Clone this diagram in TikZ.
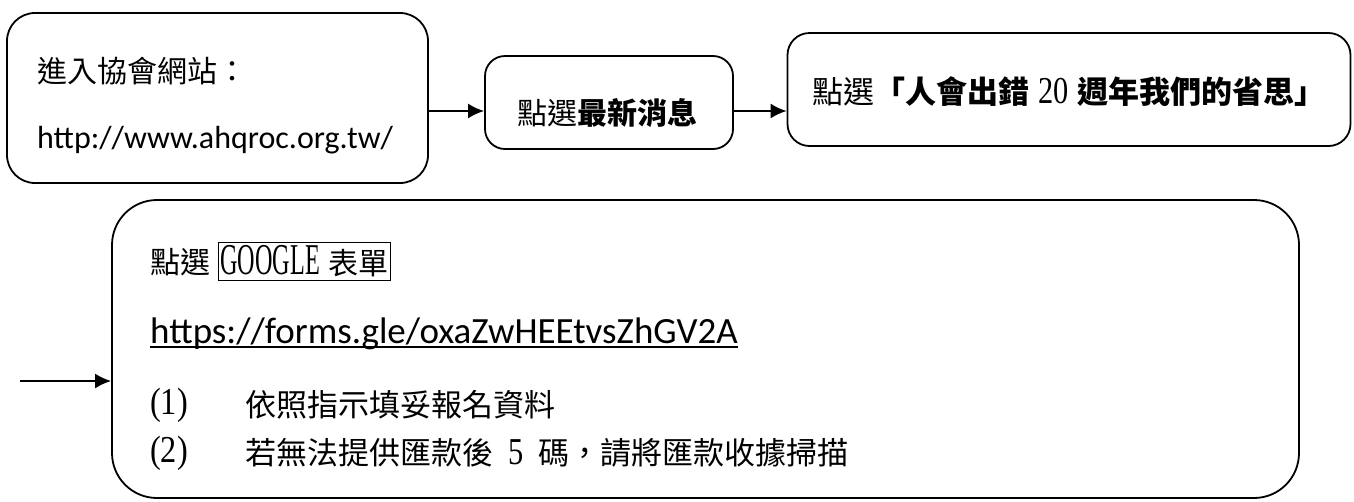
\documentclass[tikz,border=0pt]{standalone}
\usepackage{fontspec}
\setmainfont{Liberation Serif}
\newfontfamily\cjk{Noto Sans CJK TC}
\newfontfamily\lat{Carlito}
\usetikzlibrary{arrows.meta}
\newcommand{\narrow}[2]{\scalebox{#1}[1]{#2}}
\begin{document}
\begin{tikzpicture}[x=1pt,y=-1pt,
  box/.style={draw,line width=1.8pt,inner sep=0pt},
  arr/.style={line width=2pt,-{Latex[length=16pt,width=15pt]}},
  txt/.style={inner sep=0pt,anchor=west},
  zh/.style={font=\cjk\fontsize{30}{36}\selectfont},
  zhb/.style={font=\cjk\fontsize{31}{36}\selectfont},
  num/.style={font=\rmfamily\fontsize{38}{40}\selectfont},
]
\useasboundingbox (0,0) rectangle (1354,501);
\fill[white] (0,0) rectangle (1354,501);
% boxes
\node[box,rounded corners=28pt,minimum width=421pt,minimum height=170pt] (b1) at (217.5,98) {};
\node[box,rounded corners=20pt,minimum width=248pt,minimum height=93pt] (b2) at (609,102.5) {};
\node[box,rounded corners=22pt,minimum width=563pt,minimum height=113pt] (b3) at (1069,89.5) {};
\node[box,rounded corners=45pt,minimum width=1187pt,minimum height=298pt] (b4) at (705.5,349) {};
% texts
\node[txt,zh] (t1a) at (37,71) {進入協會網站：};
\node[txt,font=\lat\fontsize{32}{36}\selectfont] (t1b) at (37,140) {http://www.ahqroc.org.tw/};
\node[inner sep=0pt,zh] (t2) at (607,113) {點選{\bfseries 最新消息}};
\node[txt,font=\cjk\fontsize{31}{36}\selectfont] (t3) at (812,92) {點選{\bfseries 「人會出錯}\hspace{9pt}{\rmfamily\narrow{0.8}{\fontsize{38}{40}\selectfont 20}}\hspace{9pt}{\bfseries 週年我們的省思」}};
\node[txt,zh] (t4a) at (150,262) {點選};
\node[draw,line width=0.9pt,inner xsep=2pt,inner ysep=0pt,minimum height=38pt,anchor=west] (t4b) at (218,261)
  {\narrow{0.55}{\fontsize{44}{44}\selectfont GOOGLE}\hspace{9pt}{\cjk\fontsize{30}{36}\selectfont 表單}};
\node[inner sep=0pt,anchor=base west,font=\lat\fontsize{37}{40}\selectfont] (t4u) at (150,343) {https://forms.gle/oxaZwHEEtvsZhGV2A};
\draw[line width=1.3pt] ([yshift=-4pt]t4u.base west) -- ([yshift=-4pt]t4u.base east);
\node[txt,num] (n1) at (150,405) {\narrow{0.85}{(1)}};
\node[txt,zhb] (l1) at (245,405) {依照指示填妥報名資料};
\node[txt,num] (n2) at (150,453) {\narrow{0.85}{(2)}};
\node[txt,zhb] (l2) at (245,453) {若無法提供匯款後\hspace{15pt}{\rmfamily\narrow{0.8}{\fontsize{38}{40}\selectfont 5}}\hspace{15pt}碼，請將匯款收據掃描};
% connectors
\coordinate (r1) at (0,111);
\coordinate (s3) at (20,381);
\draw[arr] (b1.east |- r1) -- (b2.west |- r1);
\draw[arr] (b2.east |- r1) -- (b3.west |- r1);
\draw[arr] (s3) -- (b4.west |- s3);
\end{tikzpicture}
\end{document}
